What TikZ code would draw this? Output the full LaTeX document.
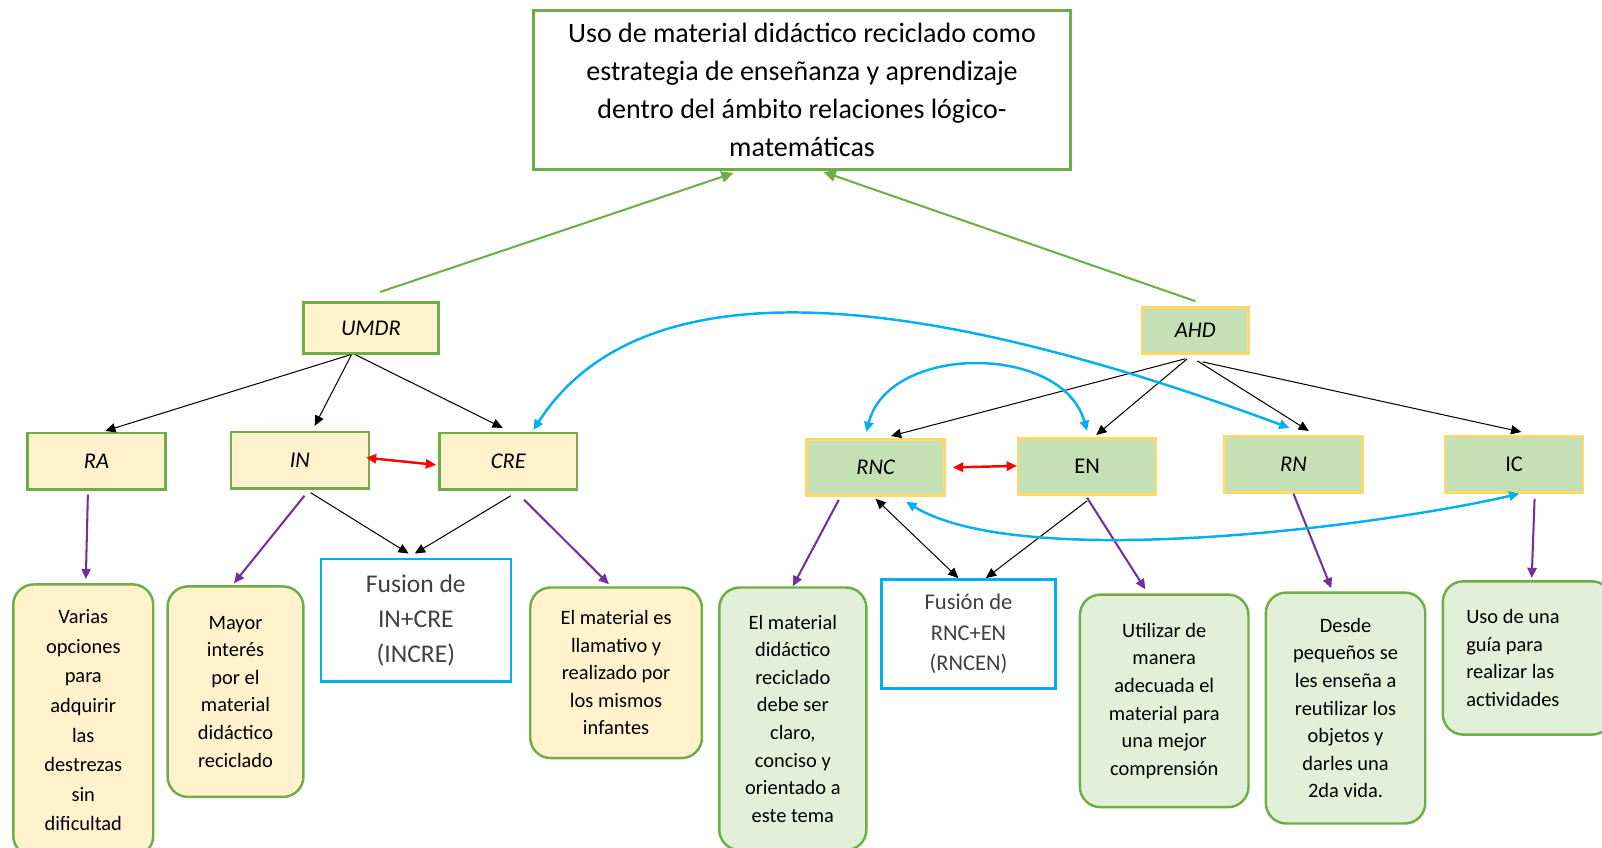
\documentclass[tikz,border=0pt]{standalone}
\usepackage{fontspec}
\setmainfont{Carlito}
\usetikzlibrary{arrows.meta}

\definecolor{verde}{HTML}{70AD47}
\definecolor{amarillo}{HTML}{FFF2CC}
\definecolor{amarilloBorde}{HTML}{FFD966}
\definecolor{verdeClaro}{HTML}{C5E0B4}
\definecolor{verdePalido}{HTML}{E2F0D9}
\definecolor{celeste}{HTML}{00B0F0}
\definecolor{morado}{HTML}{7030A0}

\tikzset{
    caja/.style={draw=verde, line width=1.2pt, fill=amarillo, minimum width=67.5pt, minimum height=27.5pt, font=\fontsize{11}{13}\selectfont\itshape},
    cajaV/.style={caja, draw=amarilloBorde, fill=verdeClaro},
    fusion/.style={draw=celeste, line width=1.2pt, fill=white, text=black!75, align=center},
    nota/.style={draw=verde, line width=1.2pt, rounded corners=10pt, align=center, font=\fontsize{10}{13.5}\selectfont},
    negro/.style={->, >={Triangle[length=5pt,width=4.5pt]}, line width=0.5pt},
    verdeF/.style={->, >={Triangle[length=6pt,width=5.5pt]}, draw=verde, fill=verde, line width=1pt},
    moradoF/.style={->, >={Triangle[length=5pt,width=4.5pt]}, draw=morado, fill=morado, line width=1pt},
    rojoF/.style={<->, >={Triangle[length=5pt,width=4.5pt]}, draw=red, fill=red, line width=1.2pt},
    celesteF/.style={<->, >={Triangle[length=5pt,width=4.5pt]}, draw=celeste, line width=1.2pt}
}

\begin{document}
\begin{tikzpicture}[x=0.5pt, y=-0.5pt]
    \useasboundingbox (0,0) rectangle (1568,830);

    \node[draw=verde, line width=1.3pt, minimum width=263pt, minimum height=78pt, align=center, font=\fontsize{13.7}{18.5}\selectfont] (title) at (785,88) {Uso de material didáctico reciclado como\\ estrategia de enseñanza y aprendizaje\\ dentro del ámbito relaciones lógico-\\ matemáticas};

    \node[caja, minimum width=66pt, minimum height=25pt] (UMDR) at (363,321) {UMDR};
    \node[cajaV, minimum width=52pt, minimum height=22.5pt] (AHD) at (1170,323.5) {AHD};

    \node[caja] (RA) at (94.5,451.5) {RA};
    \node[caja] (IN) at (293.5,450.5) {IN};
    \node[caja] (CRE) at (497.5,451.5) {CRE};
    \node[cajaV] (RNC) at (857,457.5) {RNC};
    \node[cajaV, font=\fontsize{11}{13}\selectfont] (EN) at (1064,456.5) {EN};
    \node[cajaV] (RN) at (1266,454.5) {RN};
    \node[cajaV, font=\fontsize{11}{13}\selectfont] (IC) at (1482,454.5) {IC};

    \node[fusion, minimum width=93pt, minimum height=60pt, font=\fontsize{12.5}{17}\selectfont] (INCRE) at (407,607) {Fusion de\\ IN+CRE\\ (INCRE)};
    \node[fusion, minimum width=85pt, minimum height=53.5pt, font=\fontsize{11}{15}\selectfont] (RNCEN) at (948,620.5) {Fusión de\\ RNC+EN\\ (RNCEN)};

    \node[nota, fill=amarillo, minimum width=68.5pt, minimum height=133pt, font=\fontsize{10}{14.5}\selectfont] (varias) at (81.5,705) {Varias\\ opciones\\ para\\ adquirir\\ las\\ destrezas\\ sin\\ dificultad};
    \node[nota, fill=amarillo, minimum width=66.5pt, minimum height=103pt] (mayor) at (230.5,677) {Mayor\\ interés\\ por el\\ material\\ didáctico\\ reciclado};
    \node[nota, fill=amarillo, minimum width=84pt, minimum height=83.5pt] (llamativo) at (603,658.5) {El material es\\ llamativo y\\ realizado por\\ los mismos\\ infantes};
    \node[nota, fill=verdePalido, minimum width=72pt, minimum height=128.5pt] (claro) at (776,703.5) {El material\\ didáctico\\ reciclado\\ debe ser\\ claro,\\ conciso y\\ orientado a\\ este tema};
    \node[nota, fill=verdePalido, minimum width=82.5pt, minimum height=104pt] (utilizar) at (1139.5,686) {Utilizar de\\ manera\\ adecuada el\\ material para\\ una mejor\\ comprensión};
    \node[nota, fill=verdePalido, minimum width=78pt, minimum height=113pt] (desde) at (1317,693) {Desde\\ pequeños se\\ les enseña a\\ reutilizar los\\ objetos y\\ darles una\\ 2da vida.};
    \node[nota, fill=verdePalido, align=flush left, anchor=west, text width=60pt, inner xsep=11.5pt, minimum height=75pt] (guia) at (1411,644) {Uso de una\\ guía para\\ realizar las\\ actividades};

    \draw [verdeF] ([xshift=4.5pt,yshift=4.5pt]UMDR.north) -- ([xshift=-33.5pt,yshift=-1pt]title.south);
    \draw [verdeF] ([yshift=2.5pt]AHD.north) -- ([xshift=10.5pt,yshift=-0.5pt]title.south);

    \draw [negro] ([xshift=-10pt]UMDR.south) -- ([xshift=4.25pt,yshift=0.5pt]RA.north);
    \draw [negro] ([xshift=-9.5pt]UMDR.south) -- ([xshift=7.25pt,yshift=2.5pt]IN.north);
    \draw [negro] ([xshift=-7.5pt]UMDR.south) -- ([xshift=-2.75pt,yshift=2pt]CRE.north);

    \draw [negro] ([xshift=-5pt,yshift=-2pt]AHD.south) -- ([xshift=7.5pt,yshift=1pt]RNC.north);
    \draw [negro] ([xshift=-4pt,yshift=-2pt]AHD.south) -- ([xshift=4.5pt,yshift=1pt]EN.north);
    \draw [negro] ([xshift=1pt,yshift=-3pt]AHD.south) -- ([xshift=7.5pt,yshift=2pt]RN.north);
    \draw [negro] ([xshift=3.5pt,yshift=-3.5pt]AHD.south) -- ([xshift=3.5pt,yshift=1.5pt]IC.north);

    \draw [rojoF] ([xshift=-2pt,yshift=1.25pt]IN.east) -- ([xshift=-1pt,yshift=-1.75pt]CRE.west);
    \draw [rojoF] ([xshift=3.5pt]RNC.east) -- ([yshift=0.25pt]EN.west);

    \draw [negro] ([xshift=5.25pt,yshift=-1.5pt]IN.south) -- ([xshift=-3.5pt,yshift=2pt]INCRE.north);
    \draw [negro] ([xshift=1.25pt,yshift=-2.5pt]CRE.south) -- ([xshift=-0.5pt,yshift=2pt]INCRE.north);
    \draw [negro] ([yshift=-2.5pt]EN.south) -- ([xshift=8.5pt]RNCEN.north);
    \draw [negro, <->] ([yshift=-1pt]RNC.south) -- ([xshift=-5pt]RNCEN.north);

    \draw [moradoF] ([xshift=-4.25pt,yshift=-2pt]RA.south) -- ([xshift=1.25pt,yshift=2pt]varias.north);
    \draw [moradoF] ([xshift=2.25pt,yshift=-3pt]IN.south) -- ([xshift=-0.75pt,yshift=1pt]mayor.north);
    \draw [moradoF] ([xshift=7.75pt,yshift=-4.5pt]CRE.south) -- ([xshift=-3.5pt,yshift=1pt]llamativo.north);
    \draw [moradoF] ([xshift=-18pt,yshift=-1.5pt]RNC.south) -- (claro.north);
    \draw [moradoF] ([yshift=-1pt]EN.south) -- ([xshift=-9.25pt,yshift=2pt]utilizar.north);
    \draw [moradoF] (RN.south) -- ([xshift=-7pt,yshift=1.5pt]desde.north);
    \draw [moradoF] ([xshift=10pt,yshift=-2.5pt]IC.south) -- ([xshift=2pt,yshift=1pt]guia.north);

    \draw [celesteF] ([xshift=12.25pt,yshift=1pt]CRE.north) .. controls (610,285) and (820,255) .. ([xshift=-2pt,yshift=3.5pt]RN.north);
    \draw [celesteF] ([xshift=-4.5pt,yshift=3pt]RNC.north) .. controls (870,336) and (1040,336) .. ([yshift=3pt]EN.north);
    \draw [celesteF] ([xshift=15pt,yshift=-2.5pt]RNC.south) .. controls (1000,560) and (1350,515) .. ([xshift=2.5pt]IC.south);

\end{tikzpicture}
\end{document}
